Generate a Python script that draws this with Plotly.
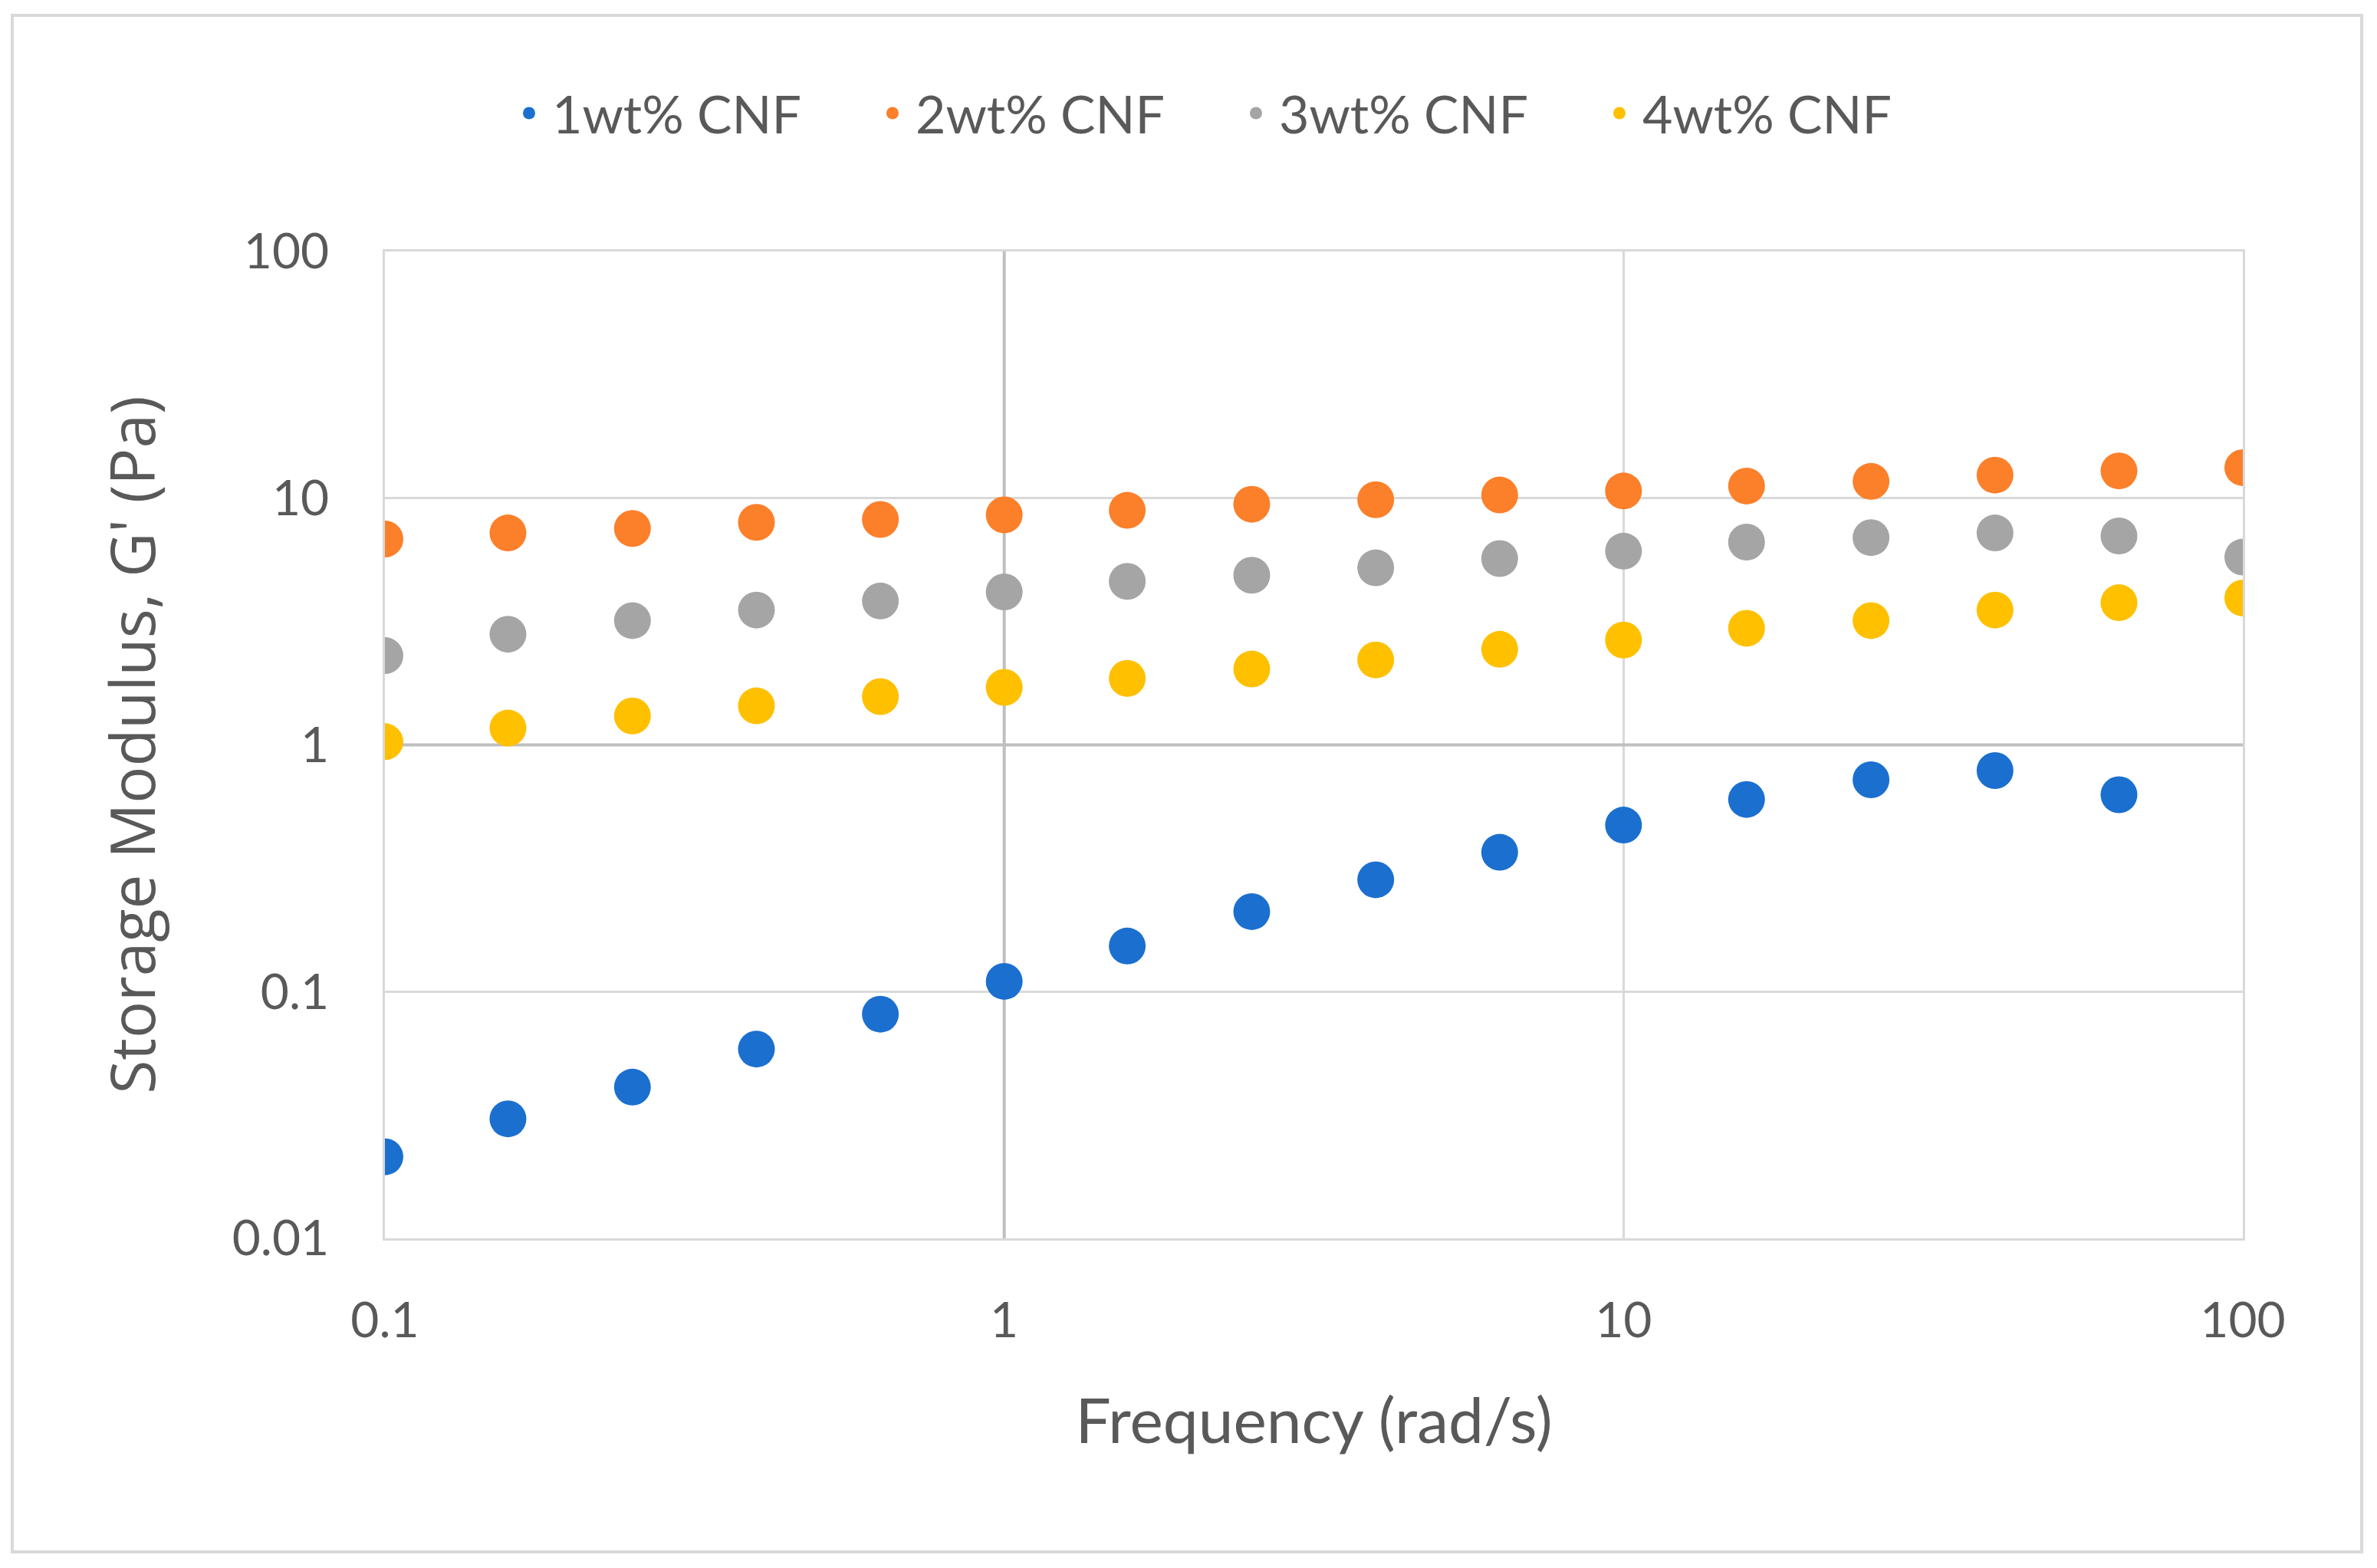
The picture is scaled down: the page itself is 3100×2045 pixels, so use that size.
import plotly.graph_objects as go

freq = [0.1, 0.158, 0.251, 0.398, 0.631, 1.0, 1.58, 2.51, 3.98, 6.31,
        10.0, 15.8, 25.1, 39.8, 63.1, 100.0]

g_1wt = [0.0214, 0.0305, 0.041, 0.0585, 0.081, 0.110, 0.153, 0.211, 0.284,
         0.367, 0.473, 0.601, 0.722, 0.787, 0.628]
g_2wt = [6.83, 7.23, 7.54, 7.98, 8.2, 8.56, 8.93, 9.45, 9.86, 10.3, 10.7,
         11.2, 11.7, 12.4, 12.9, 13.3]
g_3wt = [2.30, 2.81, 3.19, 3.52, 3.83, 4.17, 4.60, 4.87, 5.22, 5.69, 6.10,
         6.64, 6.92, 7.23, 7.03, 5.77]
g_4wt = [1.03, 1.17, 1.31, 1.44, 1.57, 1.71, 1.86, 2.03, 2.21, 2.44, 2.66,
         2.97, 3.19, 3.52, 3.77, 3.94]

series_names = ["1wt% CNF", "2wt% CNF", "3wt% CNF", "4wt% CNF"]
series_vals = [g_1wt, g_2wt, g_3wt, g_4wt]
colors = ["#1B6FCF", "#FC7F2A", "#A5A5A5", "#FFC000"]

x_ticks = [0.1, 1, 10, 100]
x_tick_labels = ["0.1", "1", "10", "100"]
y_ticks = [0.01, 0.1, 1, 10, 100]
y_tick_labels = ["0.01", "0.1", "1", "10", "100"]

TXT = "#595959"
GRID = "#D9D9D9"
AXIS = "#BFBFBF"
FONT = "Lato"

fig = go.Figure()

# Axis crossing lines (Excel log axes cross at 1)
fig.add_trace(go.Scatter(x=[1, 1], y=[0.01, 100], mode="lines",
                         line=dict(color=AXIS, width=4),
                         showlegend=False, hoverinfo="skip"))
fig.add_trace(go.Scatter(x=[0.1, 100], y=[1, 1], mode="lines",
                         line=dict(color=AXIS, width=4),
                         showlegend=False, hoverinfo="skip"))

for name, vals, col in zip(series_names, series_vals, colors):
    fig.add_trace(go.Scatter(
        x=freq[:len(vals)], y=vals, mode="markers", name=name,
        marker=dict(color=col, size=48, line=dict(width=0)),
    ))

fig.update_layout(
    width=3100, height=2045,
    paper_bgcolor="white", plot_bgcolor="white",
    margin=dict(l=494, r=183, t=320, b=438),
    font=dict(family=FONT, color=TXT, size=64),
    showlegend=True,
    legend=dict(
        orientation="h", x=0.0652, xanchor="left", y=1.14, yanchor="middle",
        font=dict(family=FONT, size=68, color=TXT),
        itemwidth=50,
        entrywidth=409, entrywidthmode="pixels",
        bgcolor="rgba(0,0,0,0)", traceorder="normal",
    ),
    shapes=[dict(type="rect", xref="paper", yref="paper",
                 x0=-0.2006, x1=1.064, y0=-0.3178, y1=1.2393,
                 line=dict(color=GRID, width=4), layer="below")],
)

fig.update_xaxes(
    type="log", range=[-1, 2],
    tickvals=x_ticks, ticktext=x_tick_labels,
    showgrid=True, gridcolor=GRID, gridwidth=3,
    showline=True, linecolor=GRID, linewidth=3, mirror=True,
    ticks="", ticklabelstandoff=49,
    tickfont=dict(family=FONT, size=64, color=TXT),
    title=dict(text="Frequency (rad/s)", font=dict(family=FONT, size=82, color=TXT),
               standoff=68),
    zeroline=False,
)
fig.update_yaxes(
    type="log", range=[-2, 2],
    tickvals=y_ticks, ticktext=y_tick_labels,
    showgrid=True, gridcolor=GRID, gridwidth=3,
    showline=True, linecolor=GRID, linewidth=3, mirror=True,
    ticks="", ticklabelstandoff=57,
    tickfont=dict(family=FONT, size=64, color=TXT),
    title=dict(text="Storage Modulus, G' (Pa)",
               font=dict(family="Open Sans", size=80, color=TXT), standoff=74),
    zeroline=False,
)

fig.write_html("out.html")
